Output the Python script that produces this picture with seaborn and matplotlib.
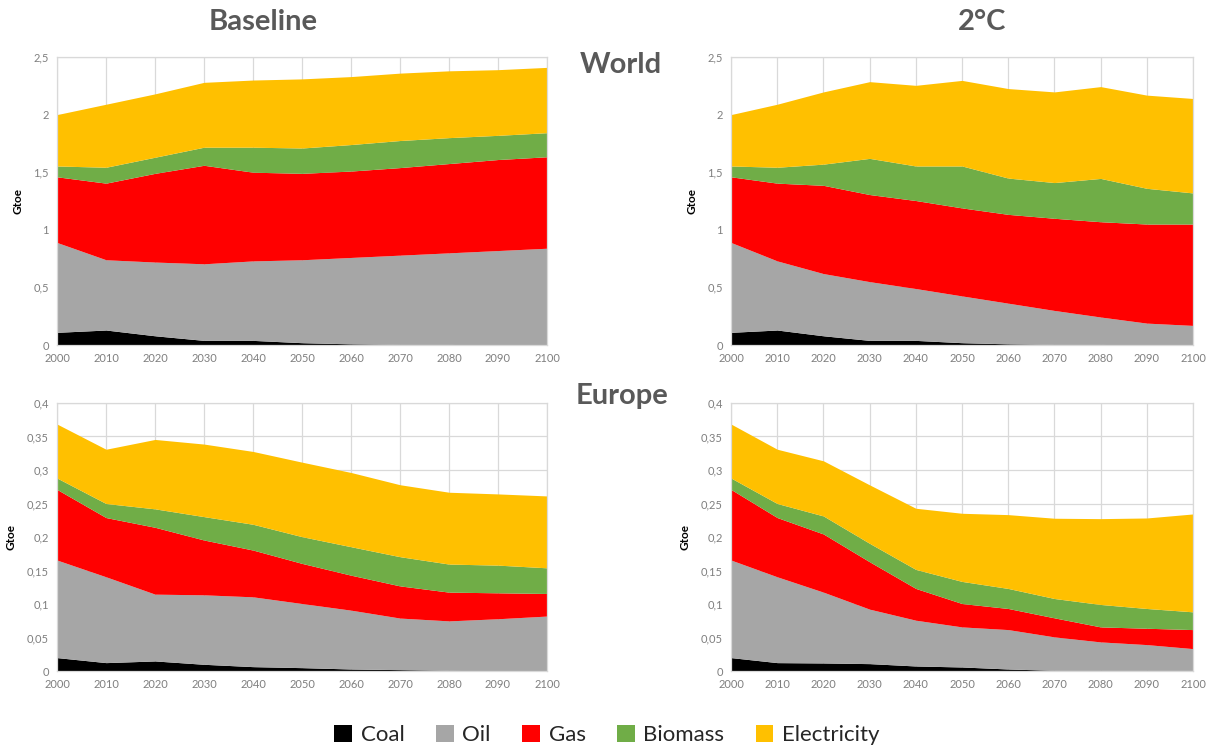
import matplotlib.pyplot as plt
import seaborn as sns
from matplotlib.patches import Patch
from matplotlib.ticker import FuncFormatter

# years on the x axis
years = [2000, 2010, 2020, 2030, 2040, 2050, 2060, 2070, 2080, 2090, 2100]
fuels = ["Coal", "Oil", "Gas", "Biomass", "Electricity"]
colors = ["#000000", "#A6A6A6", "#FF0000", "#70AD47", "#FFC000"]

# World - Baseline (Gtoe, per fuel)
world_base_coal = [0.11, 0.13, 0.08, 0.04, 0.04, 0.02, 0.01, 0.005, 0.005, 0.0, 0.0]
world_base_oil = [0.78, 0.61, 0.64, 0.665, 0.69, 0.72, 0.75, 0.775, 0.795, 0.82, 0.84]
world_base_gas = [0.57, 0.665, 0.77, 0.855, 0.77, 0.75, 0.75, 0.76, 0.775, 0.79, 0.794]
world_base_bio = [0.094, 0.138, 0.14, 0.157, 0.217, 0.22, 0.23, 0.235, 0.225, 0.21, 0.209]
world_base_elec = [0.446, 0.547, 0.55, 0.563, 0.583, 0.6, 0.59, 0.585, 0.58, 0.57, 0.567]

# World - 2°C
world_2c_coal = [0.11, 0.13, 0.08, 0.04, 0.04, 0.02, 0.01, 0.005, 0.005, 0.0, 0.0]
world_2c_oil = [0.78, 0.6, 0.54, 0.51, 0.45, 0.406, 0.353, 0.295, 0.238, 0.19, 0.17]
world_2c_gas = [0.57, 0.675, 0.766, 0.756, 0.764, 0.764, 0.771, 0.8, 0.827, 0.86, 0.88]
world_2c_bio = [0.094, 0.138, 0.184, 0.314, 0.3, 0.364, 0.315, 0.31, 0.376, 0.31, 0.27]
world_2c_elec = [0.446, 0.547, 0.627, 0.666, 0.7, 0.743, 0.777, 0.787, 0.797, 0.809, 0.82]

# Europe - Baseline
eu_base_coal = [0.02, 0.0125, 0.015, 0.01, 0.0065, 0.005, 0.003, 0.002, 0.001, 0.0, 0.0]
eu_base_oil = [0.1456, 0.1281, 0.0997, 0.1037, 0.1042, 0.0957, 0.0878, 0.077, 0.0738, 0.078, 0.082]
eu_base_gas = [0.1054, 0.0884, 0.0998, 0.0818, 0.0698, 0.0599, 0.0522, 0.048, 0.0429, 0.0387, 0.0337]
eu_base_bio = [0.017, 0.021, 0.0275, 0.0349, 0.0385, 0.0399, 0.0425, 0.0436, 0.0419, 0.0413, 0.0383]
eu_base_elec = [0.0806, 0.081, 0.1036, 0.1083, 0.1087, 0.1112, 0.1108, 0.1074, 0.1072, 0.1063, 0.1073]

# Europe - 2°C
eu_2c_coal = [0.02, 0.0125, 0.012, 0.011, 0.0075, 0.006, 0.003, 0.001, 0.001, 0.001, 0.001]
eu_2c_oil = [0.1456, 0.1281, 0.1057, 0.0813, 0.0683, 0.0598, 0.0588, 0.0499, 0.0424, 0.0384, 0.0324]
eu_2c_gas = [0.1054, 0.0884, 0.0868, 0.0707, 0.0474, 0.0349, 0.0315, 0.0284, 0.0224, 0.0244, 0.0284]
eu_2c_bio = [0.017, 0.021, 0.0269, 0.0275, 0.0284, 0.033, 0.0299, 0.0289, 0.0335, 0.0295, 0.0265]
eu_2c_elec = [0.0806, 0.081, 0.0823, 0.0873, 0.0913, 0.1017, 0.1102, 0.1198, 0.1281, 0.1351, 0.1461]

sns.set_theme(style="whitegrid")
plt.rcParams["font.family"] = ["Lato", "DejaVu Sans"]

W, H = 1215, 749
fig = plt.figure(figsize=(W / 100, H / 100), dpi=100)


def px_axes(x0, y0, x1, y1):
    # pixel box (top-left origin) -> figure fraction axes
    return fig.add_axes([x0 / W, 1 - y1 / H, (x1 - x0) / W, (y1 - y0) / H])


def comma(v, _):
    s = f"{v:.2f}".rstrip("0").rstrip(".")
    return s.replace(".", ",")


def draw_panel(ax, layers, ymax, ystep):
    ax.stackplot(years, *layers, colors=colors, linewidth=0)
    ax.set_xlim(2000, 2100)
    ax.set_ylim(0, ymax)
    ax.set_xticks(years)
    ticks = [i * ystep for i in range(int(round(ymax / ystep)) + 1)]
    ax.set_yticks(ticks)
    ax.yaxis.set_major_formatter(FuncFormatter(comma))
    ax.tick_params(axis="both", labelsize=8, colors="#7F7F7F", length=0, pad=6)
    ax.grid(True, color="#D9D9D9", linewidth=0.9)
    for sp in ax.spines.values():
        sp.set_color("#D9D9D9")
        sp.set_linewidth(0.9)
    ax.set_ylabel("Gtoe", fontsize=8.5, fontweight="bold", color="black", labelpad=7)


ax_wb = px_axes(57, 57, 547, 345)
ax_w2 = px_axes(731, 57, 1193, 345)
ax_eb = px_axes(57, 403, 547, 671)
ax_e2 = px_axes(731, 403, 1193, 671)

draw_panel(ax_wb, [world_base_coal, world_base_oil, world_base_gas, world_base_bio, world_base_elec], 2.5, 0.5)
draw_panel(ax_w2, [world_2c_coal, world_2c_oil, world_2c_gas, world_2c_bio, world_2c_elec], 2.5, 0.5)
draw_panel(ax_eb, [eu_base_coal, eu_base_oil, eu_base_gas, eu_base_bio, eu_base_elec], 0.4, 0.05)
draw_panel(ax_e2, [eu_2c_coal, eu_2c_oil, eu_2c_gas, eu_2c_bio, eu_2c_elec], 0.4, 0.05)

title_kw = dict(fontsize=21, fontweight="bold", color="#595959", ha="center", va="center")
fig.text(263 / W, 1 - 22 / H, "Baseline", **title_kw)
fig.text(982 / W, 1 - 22 / H, "2°C", **title_kw)
fig.text(621 / W, 1 - 65 / H, "World", **title_kw)
fig.text(622 / W, 1 - 396 / H, "Europe", **title_kw)

handles = [Patch(facecolor=c, edgecolor="none", label=f) for f, c in zip(fuels, colors)]
fig.legend(
    handles=handles,
    loc="center",
    bbox_to_anchor=(607 / W, 1 - 735 / H),
    ncol=5,
    frameon=False,
    fontsize=16,
    handlelength=0.8,
    handleheight=0.8,
    handletextpad=0.4,
    columnspacing=1.4,
    labelcolor="#262626",
)

fig.savefig("out.png", dpi=100)
